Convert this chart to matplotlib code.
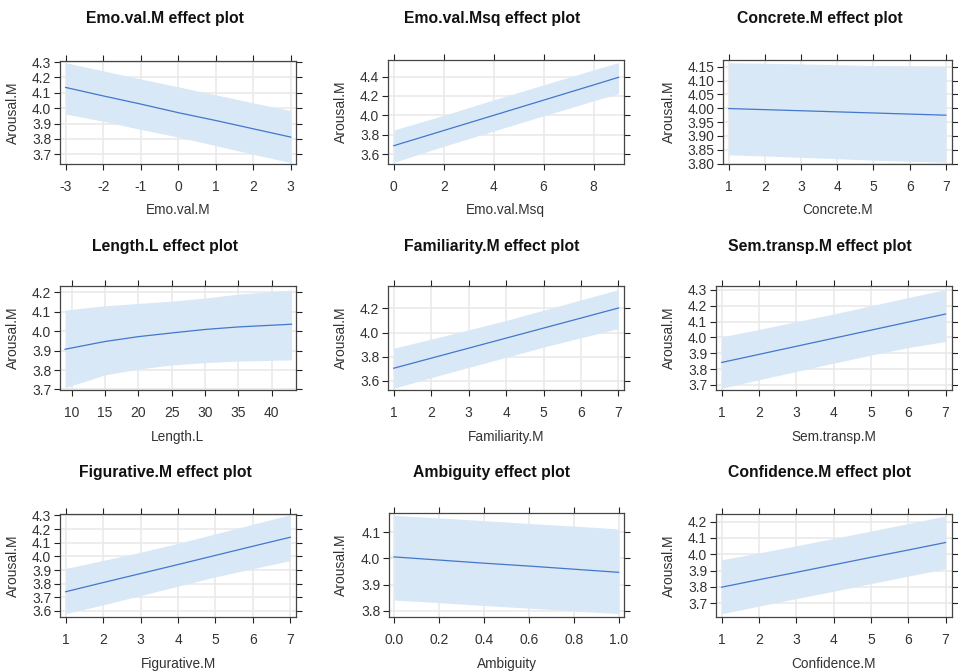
import matplotlib
matplotlib.use('Agg')
import matplotlib.pyplot as plt
import numpy as np

plt.rcParams['font.family'] = ['Liberation Sans', 'DejaVu Sans']

# --- data (x, fit, lower, upper) ---
emo_x = [-3, -2, -1, 0, 1, 2, 3]
emo_fit = [4.135, 4.080, 4.027, 3.971, 3.920, 3.866, 3.812]
emo_lo = [3.962, 3.915, 3.862, 3.812, 3.757, 3.700, 3.646]
emo_hi = [4.296, 4.243, 4.190, 4.139, 4.087, 4.035, 3.984]

emosq_x = [0, 2, 4, 6, 8, 9]
emosq_fit = [3.686, 3.843, 4.000, 4.157, 4.314, 4.393]
emosq_lo = [3.514, 3.680, 3.838, 3.995, 4.150, 4.225]
emosq_hi = [3.848, 4.000, 4.160, 4.315, 4.470, 4.545]

conc_x = [1, 2, 3, 4, 5, 6, 7]
conc_fit = [3.999, 3.995, 3.991, 3.987, 3.983, 3.979, 3.975]
conc_lo = [3.832, 3.828, 3.823, 3.818, 3.813, 3.809, 3.805]
conc_hi = [4.164, 4.162, 4.160, 4.157, 4.154, 4.152, 4.150]

len_x = [9, 15, 20, 25, 30, 35, 43]
len_fit = [3.907, 3.947, 3.972, 3.991, 4.009, 4.022, 4.036]
len_lo = [3.709, 3.775, 3.805, 3.826, 3.838, 3.846, 3.852]
len_hi = [4.109, 4.131, 4.143, 4.155, 4.171, 4.191, 4.212]

fam_x = [1, 2, 3, 4, 5, 6, 7]
fam_fit = [3.705, 3.788, 3.871, 3.954, 4.037, 4.120, 4.203]
fam_lo = [3.539, 3.627, 3.712, 3.795, 3.880, 3.957, 4.034]
fam_hi = [3.871, 3.945, 4.022, 4.100, 4.185, 4.270, 4.355]

sem_x = [1, 2, 3, 4, 5, 6, 7]
sem_fit = [3.842, 3.893, 3.944, 3.995, 4.046, 4.097, 4.148]
sem_lo = [3.679, 3.733, 3.785, 3.838, 3.888, 3.936, 3.975]
sem_hi = [4.004, 4.050, 4.100, 4.148, 4.200, 4.252, 4.302]

fig_x = [1, 2, 3, 4, 5, 6, 7]
fig_fit = [3.741, 3.808, 3.874, 3.940, 4.007, 4.074, 4.140]
fig_lo = [3.581, 3.645, 3.713, 3.782, 3.850, 3.910, 3.969]
fig_hi = [3.911, 3.970, 4.030, 4.095, 4.165, 4.235, 4.305]

amb_x = [0.0, 0.2, 0.4, 0.6, 0.8, 1.0]
amb_fit = [4.006, 3.994, 3.982, 3.971, 3.959, 3.947]
amb_lo = [3.841, 3.831, 3.820, 3.810, 3.799, 3.789]
amb_hi = [4.165, 4.155, 4.145, 4.134, 4.124, 4.113]

conf_x = [1, 2, 3, 4, 5, 6, 7]
conf_fit = [3.798, 3.844, 3.889, 3.935, 3.981, 4.026, 4.072]
conf_lo = [3.635, 3.682, 3.728, 3.773, 3.820, 3.866, 3.911]
conf_hi = [3.966, 4.008, 4.052, 4.097, 4.142, 4.188, 4.235]

names = ['Emo.val.M', 'Emo.val.Msq', 'Concrete.M',
         'Length.L', 'Familiarity.M', 'Sem.transp.M',
         'Figurative.M', 'Ambiguity', 'Confidence.M']
series = [(emo_x, emo_fit, emo_lo, emo_hi),
          (emosq_x, emosq_fit, emosq_lo, emosq_hi),
          (conc_x, conc_fit, conc_lo, conc_hi),
          (len_x, len_fit, len_lo, len_hi),
          (fam_x, fam_fit, fam_lo, fam_hi),
          (sem_x, sem_fit, sem_lo, sem_hi),
          (fig_x, fig_fit, fig_lo, fig_hi),
          (amb_x, amb_fit, amb_lo, amb_hi),
          (conf_x, conf_fit, conf_lo, conf_hi)]

# axis setup per panel: xlim, ylim, xticks, yticks, ytick format, xtick format
axis_cfg = [
    ((-3.15, 3.14), (3.637, 4.307), np.arange(-3, 4, 1), np.arange(3.7, 4.31, 0.1), '%.1f', '%d'),
    ((-0.23, 9.2), (3.497, 4.572), np.arange(0, 9, 2), np.arange(3.6, 4.41, 0.2), '%.1f', '%d'),
    ((0.843, 7.157), (3.799, 4.174), np.arange(1, 8), np.arange(3.80, 4.151, 0.05), '%.2f', '%d'),
    ((8.24, 43.67), (3.697, 4.233), np.arange(10, 41, 5), np.arange(3.7, 4.21, 0.1), '%.1f', '%d'),
    ((0.848, 7.134), (3.525, 4.385), np.arange(1, 8), np.arange(3.6, 4.21, 0.2), '%.1f', '%d'),
    ((0.848, 7.16), (3.668, 4.325), np.arange(1, 8), np.arange(3.7, 4.31, 0.1), '%.1f', '%d'),
    ((0.848, 7.152), (3.556, 4.31), np.arange(1, 8), np.arange(3.6, 4.31, 0.1), '%.1f', '%d'),
    ((-0.022, 1.024), (3.776, 4.174), np.arange(0, 1.01, 0.2), np.arange(3.8, 4.11, 0.1), '%.1f', '%.1f'),
    ((0.848, 7.16), (3.615, 4.247), np.arange(1, 8), np.arange(3.7, 4.21, 0.1), '%.1f', '%d'),
]

# panel boxes in pixels: left, right, top, bottom
W, H = 958, 672
boxes = [(60, 296, 61, 164), (388, 623.5, 60, 164), (723, 951.5, 60, 164),
         (60, 296, 286, 390), (388, 623.5, 286, 390), (716, 951.5, 286, 390),
         (60, 296, 514, 617), (389, 624, 513, 617), (716, 951.5, 514, 617)]
title_x = [165, 492, 820]
title_y = [19, 246, 473]
ylab_x = [13, 341, 669]
xlab_y = [210, 437, 664]

band_col = '#d8e8f6'
line_col = '#4377cc'
grid_col = '#e8e8e8'

fig = plt.figure(figsize=(W / 100, H / 100), dpi=100)

for i, (name, (x, fit, lo, hi), cfg, box) in enumerate(zip(names, series, axis_cfg, boxes)):
    r, c = divmod(i, 3)
    l, rr, t, b = box
    ax = fig.add_axes([l / W, 1 - b / H, (rr - l) / W, (b - t) / H])
    xlim, ylim, xt, yt, yfmt, xfmt = cfg
    ax.fill_between(x, lo, hi, color=band_col, lw=0, zorder=2)
    ax.plot(x, fit, color=line_col, lw=0.9, zorder=3)
    ax.set_xlim(*xlim)
    ax.set_ylim(*ylim)
    ax.set_xticks(xt)
    ax.set_yticks(yt)
    ax.set_xticklabels([xfmt % v for v in xt])
    ax.set_yticklabels([yfmt % v for v in yt])
    ax.grid(True, color=grid_col, lw=1.1, zorder=1)
    ax.set_axisbelow(True)
    ax.tick_params(axis='both', which='both', direction='out', length=4.3, width=0.8,
                   top=True, right=True, colors='#222222', labelsize=10,
                   labelcolor='#333333')
    ax.tick_params(axis='x', pad=7)
    ax.tick_params(axis='y', pad=2)
    for s in ax.spines.values():
        s.set_color('#444444')
        s.set_linewidth(0.9)
    fig.text(title_x[c] / W, 1 - title_y[r] / H, name + ' effect plot',
             ha='center', va='center', fontsize=11.3, fontweight='bold', color='#111111')
    fig.text(ylab_x[c] / W, 1 - ((t + b) / 2) / H, 'Arousal.M', rotation=90,
             ha='center', va='center', fontsize=10, color='#333333')
    fig.text(((l + rr) / 2) / W, 1 - xlab_y[r] / H, name,
             ha='center', va='center', fontsize=9.8, color='#333333')

fig.savefig('out.png', dpi=100, facecolor='white')
